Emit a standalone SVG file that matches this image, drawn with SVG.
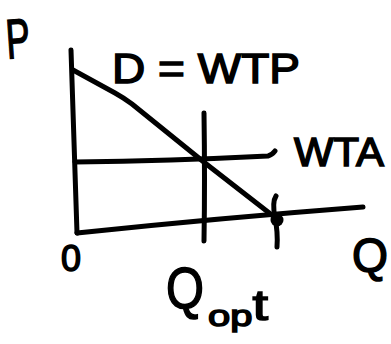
<svg xmlns="http://www.w3.org/2000/svg" width="391" height="344" viewBox="0 0 391 344">
<style>
.ln{fill:none;stroke:#000;stroke-width:5;stroke-linecap:round;stroke-linejoin:round}
.t{font-family:"Liberation Sans",Arial,sans-serif;fill:#000;stroke:#000;stroke-width:1.5}
</style>
<rect width="391" height="344" fill="#fff"/>
<g id="axes">
<path class="ln" d="M71 50 Q74 140 77 233"/>
<path class="ln" d="M77 233 Q220 218 363 207"/>
</g>
<g id="connectors">
<path class="ln" d="M73 70 L115 93 Q124 98 132 104 L205 163 L277 219"/>
<path class="ln" d="M75 162 Q170 161 268 156 Q272 155 275 151"/>
<path class="ln" d="M204 113 Q205 180 204 241"/>
<path class="ln" d="M276 196 Q272 202 275 218 Q278 232 277 247"/>
<circle cx="277" cy="220" r="6.5" fill="#000"/>
</g>
<g id="labels">
<text class="t" x="6" y="58" font-size="56" transform="rotate(-4 18 40)" textLength="24" lengthAdjust="spacingAndGlyphs">P</text>
<text class="t" x="112" y="83" font-size="42" textLength="188" lengthAdjust="spacingAndGlyphs">D = WTP</text>
<text class="t" x="294" y="166" font-size="41" textLength="90" lengthAdjust="spacingAndGlyphs">WTA</text>
<text class="t" x="61" y="271" font-size="36">0</text>
<text class="t" x="352" y="272" font-size="48" textLength="36" lengthAdjust="spacingAndGlyphs">Q</text>
<text class="t" x="166" y="308" font-size="58" textLength="38" lengthAdjust="spacingAndGlyphs">Q</text>
<text class="t" x="208" y="326" font-size="30" textLength="60" lengthAdjust="spacingAndGlyphs">op<tspan dy="-6" font-size="42">t</tspan></text>
</g>
</svg>
